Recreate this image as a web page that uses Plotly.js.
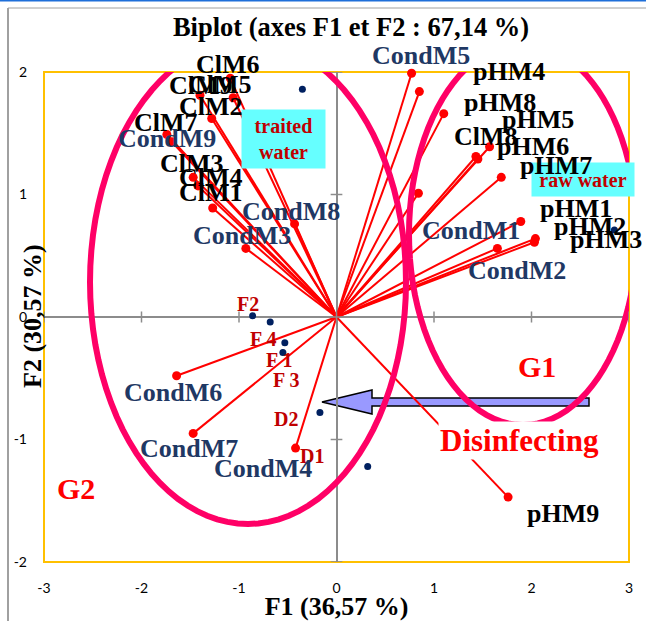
<!DOCTYPE html>
<html><head><meta charset="utf-8">
<script src="https://cdn.plot.ly/plotly-3.0.1.min.js"></script>
<style>html,body{margin:0;padding:0;background:#fff;overflow:hidden}#chart{width:646px;height:621px}</style>
</head><body><div id="chart"></div>
<script>
// ---- data: variable loadings (F1, F2) ----
const varNames = ['ClM6','ClM5','ClM9','ClM2','ClM7','CondM9','ClM3','ClM4','ClM1','CondM8','CondM3',
  'CondM5','pHM4','pHM8','ClM8','pHM5','pHM6','pHM7','CondM1','pHM1','pHM2','pHM3','CondM2',
  'CondM6','CondM7','CondM4','pHM9'];
const varF1 = [-1.09,-1.06,-1.40,-1.28,-1.74,-1.69,-1.47,-1.42,-1.27,-0.43,-0.93,
  0.77,0.85,1.10,1.57,1.43,1.45,1.69,0.84,1.89,2.04,2.03,1.65,
  -1.64,-1.47,-0.42,1.76];
const varF2 = [1.95,1.79,1.81,1.62,1.49,1.43,1.14,1.07,0.89,0.76,0.56,
  1.99,1.84,1.66,1.39,1.31,1.29,1.14,1.01,0.78,0.64,0.61,0.56,
  -0.48,-0.95,-1.07,-1.47];
// ---- data: observations ----
const obsNames = ['traited<br>water','raw water','F2','F 4','F 1','F 3','D2','D1'];
const obsF1 = [-0.35,2.85,-0.86,-0.68,-0.53,-0.55,-0.17,0.32];
const obsF2 = [1.86,0.71,0.01,-0.04,-0.21,-0.29,-0.78,-1.22];
// ---- ticks & texts ----
const xTicks = [-3,-2,-1,0,1,2,3];
const yTicks = [-2,-1,0,1,2];
const chartTitle = 'Biplot (axes F1 et F2 : 67,14 %)';
const xTitle = 'F1 (36,57 %)';
const yTitle = 'F2 (30,57 %)';

// ---- layout helpers (pixel geometry) ----
const L = 44, T = 72, W = 585, H = 490;
const dX = px => -3 + 6 * (px - L) / W;
const dY = py => 2 - 4 * (py - T) / H;
const pX = px => (px - L) / W;
const pY = py => (T + H - py) / H;

const varShiftX = [-2,-13,1,-1,-1,-5,-1,13,-2,-4,-4, 9,90,56,-4,62,55,55,53,55,55,72,20, -4,-4,-33,55];
const varShiftY = [14,13,10,12,12,3,14,8,15,12,13, 18,20,11,10,37,12,12,-37,13,12,3,-22, -17,-15,-20,-16];
const obsShiftX = [-18.5,-31,-5,-7,-6,3,-34,-56];
const obsShiftY = [-50,50.5,12,-17,-17,-27,-6,10];

const serif = 'Liberation Serif, Times New Roman, serif';
const navy = '#1F3864';

// red arrows from origin
const lx = [], ly = [];
varF1.forEach((v, i) => { lx.push(0, v, null); ly.push(0, varF2[i], null); });

const traces = [
  {type:'scatter', mode:'lines', x:lx, y:ly, line:{color:'#FF0000', width:2}, hoverinfo:'skip', showlegend:false, cliponaxis:false},
  {type:'scatter', mode:'markers', x:varF1, y:varF2, text:varNames, marker:{color:'#FF0000', size:9}, showlegend:false, cliponaxis:false},
  {type:'scatter', mode:'markers', x:obsF1, y:obsF2, text:obsNames, marker:{color:'#002060', size:7}, showlegend:false, cliponaxis:false}
];

const annotations = [];
// boxed observation labels first (drawn beneath the variable labels)
obsNames.forEach((n, i) => {
  const box = i < 2;
  const a = {x:obsF1[i], y:obsF2[i], xref:'x', yref:'y', text:'<b>'+n+'</b>', showarrow:false,
    xshift:obsShiftX[i], yshift:obsShiftY[i], xanchor:'center', yanchor:'middle',
    font:{family:serif, size:20, color:'#C00000'}};
  if (box) {
    a.bgcolor = '#66FFFF'; a.borderpad = 0;
    if (i === 0) { a.width = 83; a.height = 58; } else { a.width = 102; a.height = 33; }
  }
  annotations.push(a);
});
varNames.forEach((n, i) => {
  annotations.push({x:varF1[i], y:varF2[i], xref:'x', yref:'y', text:'<b>'+n+'</b>', showarrow:false,
    xshift:varShiftX[i], yshift:varShiftY[i], xanchor:'center', yanchor:'middle',
    font:{family:serif, size:26, color: n.startsWith('Cond') ? navy : '#000000'}});
});
const pa = (px, py, text, size, extra) => Object.assign({xref:'paper', yref:'paper', x:pX(px), y:pY(py),
  xanchor:'center', yanchor:'middle', text:text, showarrow:false,
  font:{family:serif, size:size, color:'#FF0000'}}, extra || {});
annotations.push(
  pa(537, 366, '<b>G1</b>', 30),
  pa(76, 488, '<b>G2</b>', 30),
  pa(519, 440, '<b>Disinfecting</b>', 31, {bgcolor:'#FFFFFF', borderpad:1}),
  pa(32, 316, '<b>'+yTitle+'</b>', 26, {textangle:-90, font:{family:serif, size:26, color:'#000000'}})
);

// shapes
function ellipsePath(cx, cy, a, b, deg) {
  const th = deg * Math.PI / 180; let s = '';
  for (let k = 0; k <= 96; k++) {
    const t = 2 * Math.PI * k / 96;
    const ex = a * Math.cos(t), ey = b * Math.sin(t);
    const px = cx + ex * Math.cos(th) - ey * Math.sin(th);
    const py = cy + ex * Math.sin(th) + ey * Math.cos(th);
    s += (k ? ' L ' : 'M ') + dX(px).toFixed(4) + ',' + dY(py).toFixed(4);
  }
  return s + ' Z';
}
function pathPx(pts) {
  return pts.map((p, k) => (k ? ' L ' : 'M ') + dX(p[0]).toFixed(4) + ',' + dY(p[1]).toFixed(4)).join('') + ' Z';
}
const gray = '#8C8C8C';
const shapes = [
  {type:'rect', xref:'paper', yref:'paper', x0:0, x1:1, y0:0, y1:1, line:{color:'#FFC000', width:2}, layer:'below'},
  {type:'path', xref:'x', yref:'y', path: pathPx([[322,402],[372,390],[372,398],[589,398],[589,406],[372,406],[372,414]]),
    fillcolor:'#9999FF', line:{color:'#000000', width:1.5}, layer:'below'},
  {type:'path', xref:'x', yref:'y', path: ellipsePath(248, 282, 158, 242, 0), line:{color:'#FF0066', width:6}, layer:'above'},
  {type:'path', xref:'x', yref:'y', path: ellipsePath(523, 234, 114, 191, 0), line:{color:'#FF0066', width:6}, layer:'above'},
  // outer frame
  {type:'line', xref:'paper', yref:'paper', x0:pX(8), x1:pX(8), y0:pY(8), y1:pY(625), line:{color:'#A0A0A0', width:2}},
  {type:'line', xref:'paper', yref:'paper', x0:pX(8), x1:pX(650), y0:pY(8), y1:pY(8), line:{color:'#A0A0A0', width:1}},
  {type:'line', xref:'paper', yref:'paper', x0:pX(-2), x1:pX(650), y0:pY(0.5), y1:pY(0.5), line:{color:'#1E6FD9', width:2}}
];
xTicks.forEach(v => shapes.push({type:'line', xref:'x', yref:'y', x0:v, x1:v, y0:-0.045, y1:0.045, line:{color:gray, width:1.5}}));
yTicks.forEach(v => shapes.push({type:'line', xref:'x', yref:'y', x0:-0.06, x1:0.06, y0:v, y1:v, line:{color:gray, width:1.5}}));

const tickFont = {family:'Lato, Carlito, Calibri, sans-serif', size:14, color:'#000000'};
const layout = {
  width:646, height:621,
  margin:{l:L, r:646-L-W, t:T, b:621-T-H, pad:0},
  paper_bgcolor:'#FFFFFF', plot_bgcolor:'#FFFFFF',
  showlegend:false,
  title:{text:'<b>'+chartTitle+'</b>', font:{family:serif, size:26.5, color:'#000000'},
    xref:'container', yref:'container', x:351/646, y:1-27/621, xanchor:'center', yanchor:'middle'},
  xaxis:{range:[-3,3], tickvals:xTicks, ticktext:xTicks.map(String), showgrid:false, showline:false,
    zeroline:true, zerolinecolor:gray, zerolinewidth:2, ticks:'', tickfont:tickFont, ticklabelstandoff:16,
    title:{text:'<b>'+xTitle+'</b>', font:{family:serif, size:26, color:'#000000'}, standoff:0}, fixedrange:true},
  yaxis:{range:[-2,2], tickvals:yTicks, ticktext:yTicks.map(String), showgrid:false, showline:false,
    zeroline:true, zerolinecolor:gray, zerolinewidth:2, ticks:'', tickfont:tickFont, ticklabelstandoff:16, fixedrange:true},
  annotations: annotations,
  shapes: shapes
};
Plotly.newPlot('chart', traces, layout, {displayModeBar:false, staticPlot:true});
</script></body></html>
